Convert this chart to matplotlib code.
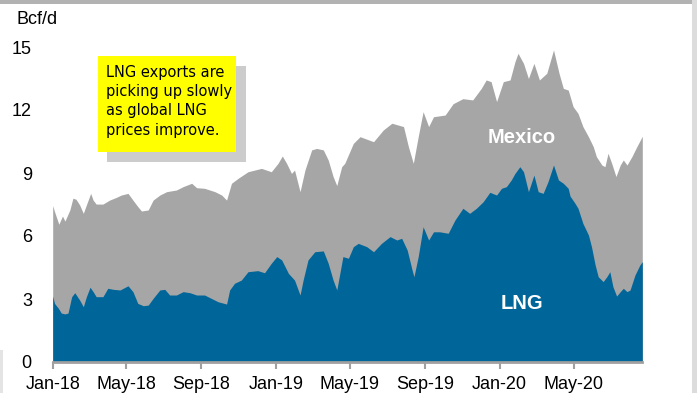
import matplotlib
matplotlib.use("Agg")
import matplotlib.pyplot as plt
import matplotlib.dates as mdates
from matplotlib.patches import Rectangle
import pandas as pd

plt.rcParams["font.family"] = ["Liberation Sans", "DejaVu Sans"]

# Total U.S. natural gas exports (LNG + pipeline to Mexico), Bcf/d
total_dates = [
    "2018-01-01", "2018-01-04", "2018-01-11", "2018-01-17", "2018-01-21", "2018-01-29",
    "2018-02-03", "2018-02-08", "2018-02-14", "2018-02-20", "2018-02-25", "2018-03-04",
    "2018-03-08", "2018-03-13", "2018-03-24", "2018-04-04", "2018-04-15", "2018-04-23",
    "2018-05-04", "2018-05-12", "2018-05-20", "2018-05-26", "2018-06-06", "2018-06-14",
    "2018-06-25", "2018-07-06", "2018-07-22", "2018-08-02", "2018-08-16", "2018-08-24",
    "2018-09-06", "2018-09-23", "2018-10-04", "2018-10-12", "2018-10-20", "2018-10-31",
    "2018-11-16", "2018-12-08", "2018-12-24", "2019-01-04", "2019-01-11", "2019-01-18",
    "2019-01-26", "2019-01-31", "2019-02-09", "2019-02-17", "2019-02-28", "2019-03-08",
    "2019-03-19", "2019-03-27", "2019-04-04", "2019-04-10", "2019-04-18", "2019-04-23",
    "2019-05-07", "2019-05-18", "2019-06-09", "2019-06-25", "2019-07-09", "2019-07-28",
    "2019-08-05", "2019-08-13", "2019-08-21", "2019-08-29", "2019-09-07", "2019-09-15",
    "2019-10-04", "2019-10-17", "2019-11-02", "2019-11-18", "2019-12-02", "2019-12-10",
    "2019-12-18", "2019-12-27", "2020-01-07", "2020-01-18", "2020-01-26", "2020-01-31",
    "2020-02-09", "2020-02-17", "2020-02-26", "2020-03-06", "2020-03-18", "2020-03-29",
    "2020-04-07", "2020-04-14", "2020-04-22", "2020-04-30", "2020-05-08", "2020-05-16",
    "2020-05-25", "2020-06-02", "2020-06-07", "2020-06-16", "2020-06-21", "2020-06-26",
    "2020-07-02", "2020-07-09", "2020-07-16", "2020-07-21", "2020-07-27", "2020-08-04",
    "2020-08-12", "2020-08-21",
]
total_values = [
    7.45, 7.16, 6.56, 6.95, 6.71, 7.24,
    7.80, 7.75, 7.48, 7.08, 7.48, 8.03,
    7.71, 7.52, 7.52, 7.71, 7.84, 7.95,
    8.03, 7.71, 7.40, 7.19, 7.24, 7.71,
    7.95, 8.11, 8.19, 8.35, 8.51, 8.30,
    8.27, 8.11, 7.95, 7.71, 8.51, 8.75,
    9.06, 9.22, 9.06, 9.46, 9.81, 9.46,
    8.98, 9.14, 8.11, 9.14, 10.10, 10.17,
    10.10, 9.62, 8.83, 8.40, 9.30, 9.46,
    10.41, 10.73, 10.49, 11.05, 11.37, 11.21,
    10.25, 9.46, 10.73, 11.92, 11.21, 11.68,
    11.76, 12.30, 12.54, 12.48, 13.03, 13.43,
    13.35, 12.40, 13.35, 13.43, 14.30, 14.70,
    14.22, 13.50, 14.22, 13.43, 13.75, 14.86,
    13.75, 13.03, 12.95, 12.16, 11.84, 11.21,
    10.73, 10.25, 9.78, 9.38, 9.30, 9.94,
    9.46, 8.83, 9.38, 9.62, 9.38, 9.78,
    10.25, 10.75,
]

# LNG exports, Bcf/d
lng_dates = [
    "2018-01-01", "2018-01-04", "2018-01-10", "2018-01-15", "2018-01-21", "2018-01-26",
    "2018-02-01", "2018-02-06", "2018-02-14", "2018-02-20", "2018-02-25", "2018-03-03",
    "2018-03-08", "2018-03-13", "2018-03-24", "2018-04-01", "2018-04-10", "2018-04-21",
    "2018-05-04", "2018-05-12", "2018-05-20", "2018-05-29", "2018-06-06", "2018-06-14",
    "2018-06-25", "2018-07-03", "2018-07-11", "2018-07-22", "2018-08-02", "2018-08-13",
    "2018-08-24", "2018-09-06", "2018-09-17", "2018-09-28", "2018-10-12", "2018-10-17",
    "2018-10-25", "2018-11-05", "2018-11-16", "2018-12-02", "2018-12-13", "2018-12-24",
    "2019-01-02", "2019-01-10", "2019-01-21", "2019-01-31", "2019-02-09", "2019-02-14",
    "2019-02-22", "2019-03-05", "2019-03-19", "2019-03-27", "2019-04-04", "2019-04-10",
    "2019-04-15", "2019-04-20", "2019-04-29", "2019-05-07", "2019-05-15", "2019-05-29",
    "2019-06-09", "2019-06-22", "2019-07-06", "2019-07-17", "2019-07-25", "2019-08-03",
    "2019-08-11", "2019-08-14", "2019-08-21", "2019-08-29", "2019-09-07", "2019-09-15",
    "2019-09-25", "2019-10-09", "2019-10-20", "2019-11-02", "2019-11-13", "2019-11-24",
    "2019-12-05", "2019-12-16", "2019-12-27", "2020-01-04", "2020-01-12", "2020-01-20",
    "2020-01-26", "2020-02-03", "2020-02-09", "2020-02-17", "2020-02-26", "2020-03-04",
    "2020-03-12", "2020-03-20", "2020-03-29", "2020-04-06", "2020-04-14", "2020-04-22",
    "2020-04-25", "2020-05-03", "2020-05-08", "2020-05-16", "2020-05-25", "2020-05-30",
    "2020-06-05", "2020-06-10", "2020-06-18", "2020-06-24", "2020-06-29", "2020-07-04",
    "2020-07-10", "2020-07-16", "2020-07-21", "2020-07-27", "2020-08-01", "2020-08-09",
    "2020-08-17", "2020-08-21",
]
lng_values = [
    3.14, 2.79, 2.57, 2.33, 2.29, 2.33,
    3.11, 3.30, 2.95, 2.63, 3.11, 3.56,
    3.35, 3.11, 3.11, 3.51, 3.46, 3.43,
    3.63, 3.35, 2.79, 2.68, 2.71, 3.03,
    3.43, 3.46, 3.19, 3.19, 3.35, 3.30,
    3.19, 3.19, 3.03, 2.87, 2.76, 3.43,
    3.75, 3.90, 4.30, 4.35, 4.25, 4.70,
    5.02, 4.86, 4.22, 3.90, 3.19, 3.90,
    4.86, 5.25, 5.29, 4.70, 3.90, 3.43,
    4.22, 5.02, 4.94, 5.49, 5.65, 5.49,
    5.25, 5.65, 5.97, 5.81, 5.89, 5.33,
    4.38, 4.06, 5.02, 6.44, 5.81, 6.20,
    6.20, 6.13, 6.76, 7.32, 7.08, 7.32,
    7.63, 8.08, 7.95, 8.27, 8.35, 8.67,
    8.98, 9.30, 9.06, 8.11, 8.90, 8.11,
    8.03, 8.59, 9.38, 8.67, 8.51, 8.27,
    7.90, 7.56, 7.32, 6.60, 6.05, 5.49,
    4.62, 4.06, 3.83, 4.06, 4.30, 3.59,
    3.14, 3.35, 3.51, 3.35, 3.43, 4.14,
    4.62, 4.78,
]

tick_dates = ["2018-01-01", "2018-05-01", "2018-09-01", "2019-01-01",
              "2019-05-01", "2019-09-01", "2020-01-01", "2020-05-01"]
tick_labels = ["Jan-18", "May-18", "Sep-18", "Jan-19",
               "May-19", "Sep-19", "Jan-20", "May-20"]
y_ticks = [0, 3, 6, 9, 12, 15]

note_lines = ["LNG exports are", "picking up slowly", "as global LNG", "prices improve."]

GRAY = "#a6a6a6"
BLUE = "#006699"
AXIS_GRAY = "#a0a0a0"

W, H = 697, 393
fig = plt.figure(figsize=(W / 100, H / 100), dpi=100)
fig.patch.set_facecolor("white")


def fx(px):
    return px / W


def fy(py):
    return 1 - py / H


ax_left, ax_right, ax_top, ax_bottom = 52.7, 642.3, 47, 362
ax = fig.add_axes([fx(ax_left), fy(ax_bottom), fx(ax_right - ax_left), (ax_bottom - ax_top) / H])

td = pd.to_datetime(total_dates)
ld = pd.to_datetime(lng_dates)

# Grey area = Mexico pipeline exports stacked above LNG; blue LNG drawn over it
ax.fill_between(td, 0, total_values, color=GRAY, lw=0, zorder=1)
ax.fill_between(ld, 0, lng_values, color=BLUE, lw=0, zorder=2)

ax.set_xlim(td[0], td[-1])
ax.set_ylim(0, 15)
ax.set_yticks(y_ticks)
ax.set_yticklabels([str(v) for v in y_ticks], fontsize=13)
ax.tick_params(axis="y", length=0, pad=15)
ax.set_xticks(pd.to_datetime(tick_dates))
ax.set_xticklabels(tick_labels, fontsize=13)
ax.tick_params(axis="x", length=5, width=1.5, color=AXIS_GRAY, pad=5, direction="out")

for side in ("top", "right", "left"):
    ax.spines[side].set_visible(False)
ax.spines["bottom"].set_color(AXIS_GRAY)
ax.spines["bottom"].set_linewidth(2)
ax.set_facecolor("none")

ax.text(pd.Timestamp("2020-02-06"), 10.7, "Mexico", color="white", fontsize=14.5,
        fontweight="bold", ha="center", va="center", zorder=5)
ax.text(pd.Timestamp("2020-02-07"), 2.80, "LNG", color="white", fontsize=14.5,
        fontweight="bold", ha="center", va="center", zorder=5)

fig.text(fx(17), fy(20), "Bcf/d", fontsize=13, ha="left", va="center")

# Note box with drop shadow
fig.patches.append(Rectangle((fx(106.7), fy(161.7)), fx(246 - 106.7), (161.7 - 66) / H,
                             transform=fig.transFigure, facecolor="#cccccc",
                             edgecolor="none", zorder=3))
fig.patches.append(Rectangle((fx(97.7), fy(151.7)), fx(236 - 97.7), (151.7 - 56) / H,
                             transform=fig.transFigure, facecolor="#ffff00",
                             edgecolor="none", zorder=4))
for i, line in enumerate(note_lines):
    fig.text(fx(106), fy(72.7 + i * 19.1), line, fontsize=10.5, family="DejaVu Sans",
             ha="left", va="center", zorder=5)

# Frame strips around the figure
fig.patches.append(Rectangle((0, fy(4.3)), fx(692), 4.3 / H, transform=fig.transFigure,
                             facecolor="#b2b2b2", edgecolor="none", zorder=6))
fig.patches.append(Rectangle((fx(692), 0), fx(5), 1, transform=fig.transFigure,
                             facecolor="#dcdcdc", edgecolor="none", zorder=6))
fig.patches.append(Rectangle((0, 0), fx(2.5), fy(350), transform=fig.transFigure,
                             facecolor="#e4e4e4", edgecolor="none", zorder=6))

fig.savefig("out.png", dpi=100)
